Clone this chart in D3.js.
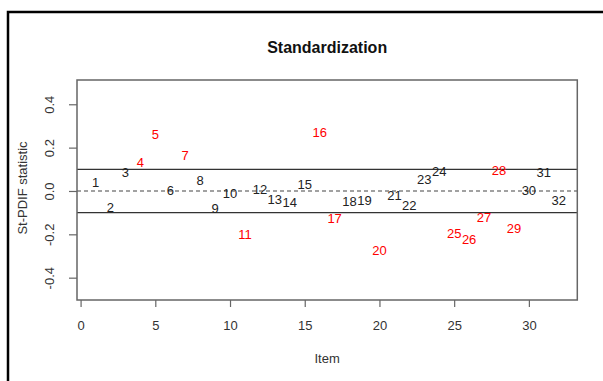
<!DOCTYPE html>
<html>
<head>
<meta charset="utf-8">
<script src="https://cdn.jsdelivr.net/npm/d3@7"></script>
<style>
  body { margin: 0; background: #fff; }
  svg { display: block; font-family: "Liberation Sans", Arial, sans-serif; }
</style>
</head>
<body>
<svg id="chart" width="603" height="381"></svg>
<script>
// St-PDIF statistic per item
var items = d3.range(1, 33);
var stats = [0.038, -0.077, 0.088, 0.131, 0.263, 0.005, 0.165, 0.048, -0.082, -0.011,
             -0.198, 0.009, -0.038, -0.054, 0.032, 0.269, -0.126, -0.049, -0.042, -0.275,
             -0.018, -0.068, 0.055, 0.092, -0.195, -0.221, -0.121, 0.095, -0.172, 0.003,
             0.086, -0.042];
// items flagged as DIF (drawn red)
var flagged = [4, 5, 7, 11, 16, 17, 20, 25, 26, 27, 28, 29];
var thresholds = [-0.1, 0.1];
var xTicks = [0, 5, 10, 15, 20, 25, 30];
var yTicks = [-0.4, -0.2, 0, 0.2, 0.4];

var svg = d3.select("#chart");

// outer frame
svg.append("rect")
    .attr("x", 8).attr("y", 12)
    .attr("width", 620).attr("height", 400)
    .attr("fill", "none")
    .attr("stroke", "#000")
    .attr("stroke-width", 2.5);

// plot region (window.top is reserved, so no "top" here)
var pLeft = 77, pRight = 577.3, pTop = 80, pBottom = 300;

var x = d3.scaleLinear().domain([-0.24, 33.24]).range([pLeft, pRight]);
var y = d3.scaleLinear().domain([-0.503, 0.512]).range([pBottom, pTop]);

// R style labels use a plain hyphen for the minus sign
var fmtY = d => d3.format(".1f")(d).replace("\u2212", "-");

// axes
var xAxis = svg.append("g")
    .attr("transform", "translate(0," + pBottom + ")")
    .call(d3.axisBottom(x).tickValues(xTicks).tickSize(7).tickPadding(4).tickFormat(d3.format("d")));
xAxis.select(".domain").remove();
xAxis.selectAll("line").attr("stroke", "#666").attr("stroke-width", 1.2);
xAxis.selectAll("text")
    .attr("fill", "#333")
    .style("font-size", "13px")
    .attr("y", 0).attr("dy", "29.5px");

var yAxis = svg.append("g")
    .attr("transform", "translate(" + pLeft + ",0)")
    .call(d3.axisLeft(y).tickValues(yTicks).tickSize(8).tickFormat(fmtY));
yAxis.select(".domain").remove();
yAxis.selectAll("line").attr("stroke", "#666").attr("stroke-width", 1.2);
yAxis.selectAll("text")
    .attr("fill", "#333")
    .style("font-size", "13px")
    .attr("x", 0).attr("dy", null)
    .attr("text-anchor", "middle")
    .attr("transform", "translate(-23.5,0) rotate(-90)");

// reference lines
svg.append("line")
    .attr("x1", pLeft).attr("x2", pRight)
    .attr("y1", y(0)).attr("y2", y(0))
    .attr("stroke", "#444")
    .attr("stroke-width", 1.2)
    .attr("stroke-dasharray", "4,3");

svg.selectAll(".thr")
    .data(thresholds)
    .enter()
    .append("line")
    .attr("class", "thr")
    .attr("x1", pLeft).attr("x2", pRight)
    .attr("y1", d => y(d)).attr("y2", d => y(d))
    .attr("stroke", "#333")
    .attr("stroke-width", 1.2);

// plot box
svg.append("rect")
    .attr("x", pLeft).attr("y", pTop)
    .attr("width", pRight - pLeft).attr("height", pBottom - pTop)
    .attr("fill", "none")
    .attr("stroke", "#666")
    .attr("stroke-width", 1.5);

// item labels
svg.selectAll(".lab")
    .data(items)
    .enter()
    .append("text")
    .attr("class", "lab")
    .attr("x", d => x(d))
    .attr("y", (d, i) => y(stats[i]))
    .attr("dy", "0.36em")
    .attr("text-anchor", "middle")
    .style("font-size", "13px")
    .attr("fill", d => flagged.indexOf(d) >= 0 ? "#f00" : "#222")
    .text(d => d);

// titles
svg.append("text")
    .attr("x", (pLeft + pRight) / 2).attr("y", 53)
    .attr("text-anchor", "middle")
    .style("font-size", "16px")
    .style("font-weight", "bold")
    .attr("fill", "#111")
    .text("Standardization");

svg.append("text")
    .attr("x", (pLeft + pRight) / 2).attr("y", 363)
    .attr("text-anchor", "middle")
    .style("font-size", "13px")
    .attr("fill", "#333")
    .text("Item");

svg.append("text")
    .attr("transform", "translate(27,188) rotate(-90)")
    .attr("text-anchor", "middle")
    .style("font-size", "13px")
    .attr("fill", "#333")
    .text("St-PDIF statistic");
</script>
</body>
</html>
